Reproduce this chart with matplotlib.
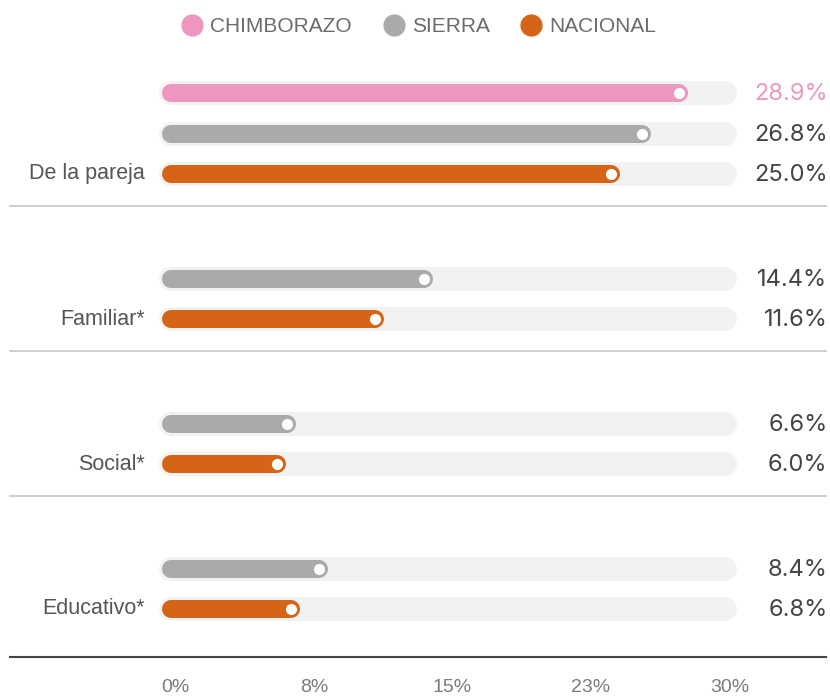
import matplotlib
matplotlib.use("Agg")
import matplotlib.pyplot as plt
from matplotlib.lines import Line2D

plt.rcParams['font.family'] = ['Liberation Sans', 'DejaVu Sans']

# ---- data ----
categories = ["De la pareja", "Familiar*", "Social*", "Educativo*"]
chimborazo = [28.9, None, None, None]
sierra = [26.8, 14.4, 6.6, 8.4]
nacional = [25.0, 11.6, 6.0, 6.8]
series_names = ["CHIMBORAZO", "SIERRA", "NACIONAL"]
tick_labels = ["0%", "8%", "15%", "23%", "30%"]

# ---- style ----
colors = ["#ec96c0", "#a9aaac", "#d66416"]
label_colors = ["#ec96c0", "#444444", "#444444"]
track_color = "#f2f2f2"
XMAX = 31.5
W, H = 830, 697

fig = plt.figure(figsize=(W / 100, H / 100), dpi=100)
x0_px, x1_px = 171, 725
ax = fig.add_axes([x0_px / W, 0, (x1_px - x0_px) / W, 1])
ax.set_xlim(0, XMAX)
ax.set_ylim(H, 0)
ax.axis("off")

bar_lw = 18 * 72 / 100
track_lw = 24 * 72 / 100

def fy(ypx):
    return 1 - ypx / H

for i, cat in enumerate(categories):
    base = 174 + 145 * i
    rows = [(chimborazo[i], base - 81, 0), (sierra[i], base - 40, 1), (nacional[i], base, 2)]
    for val, y, s in rows:
        if val is None:
            continue
        ax.plot([0, XMAX], [y, y], color=track_color, lw=track_lw,
                solid_capstyle="round", clip_on=False, zorder=1)
        ax.plot([0, val], [y, y], color=colors[s], lw=bar_lw,
                solid_capstyle="round", clip_on=False, zorder=2)
        ax.plot([val], [y], marker="o", ms=7, mfc="white", mec="white",
                clip_on=False, zorder=3)
        fig.text(827.5 / W, fy(y + 1), f"{val:.1f}%", ha="right", va="center",
                 fontsize=17, color=label_colors[s], family=["Inter", "DejaVu Sans"])
    fig.text(145 / W, fy(base), cat, ha="right", va="center",
             fontsize=15.5, color="#555555")
    if i < len(categories) - 1:
        fig.add_artist(Line2D([10 / W, 826 / W], [fy(base + 32)] * 2,
                              color="#c6c6c6", lw=1.2))

fig.add_artist(Line2D([10 / W, 826 / W], [fy(657)] * 2, color="#444444", lw=1.5))

# x tick labels
n = len(tick_labels)
for k, t in enumerate(tick_labels):
    ax.text(XMAX * k / (n - 1) + 0.25, 688, t, ha="center", va="center",
            fontsize=14, color="#7a7a7a", clip_on=False)

# legend
leg_x = [192, 394, 531]
for k, name in enumerate(series_names):
    fig.add_artist(Line2D([leg_x[k] / W], [fy(25)], marker="o", ms=15,
                          mfc=colors[k], mec=colors[k], lw=0))
    fig.text((leg_x[k] + 18) / W, fy(26), name, ha="left", va="center",
             fontsize=15, color="#6b6b6b")

fig.savefig("out.png", dpi=100)
